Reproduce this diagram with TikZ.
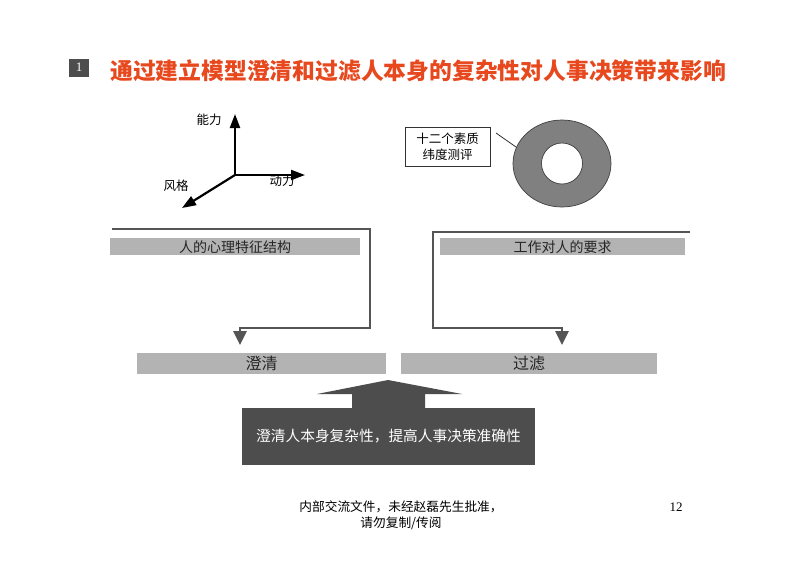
\documentclass[tikz,border=0pt]{standalone}
\usepackage{fontspec}
\setmainfont{Noto Sans CJK SC}
\newfontfamily\numfont{Liberation Serif}
\usetikzlibrary{arrows.meta}
\definecolor{titlered}{HTML}{E8481E}
\definecolor{linegray}{HTML}{555555}
\definecolor{bargray}{HTML}{B3B3B3}
\definecolor{darkbox}{HTML}{4D4D4D}
\definecolor{ringgray}{HTML}{808080}
\tikzset{
  bar/.style={fill=bargray, draw=none, inner sep=0pt, anchor=north west, font=\fontsize{14}{16}\selectfont, text=black!85},
  conn/.style={draw=linegray, line width=2.6pt, -{Triangle[width=13pt,length=14pt]}, shorten >=8pt},
  axis/.style={draw=black, line width=2.2pt, -{Triangle[width=10pt,length=14pt]}},
  lbl/.style={font=\fontsize{12.5}{14}\selectfont, inner sep=0pt},
}
\begin{document}
\begin{tikzpicture}[x=1pt,y=-1pt]
\useasboundingbox (0,0) rectangle (800,566);
\fill[white] (0,0) rectangle (800,566);
% title
\node[fill=darkbox, text=white, minimum width=20pt, minimum height=18pt, inner sep=0pt, font=\numfont\fontsize{13}{13}\selectfont] (num) at (79,67.5) {1};
\node[anchor=west, text=titlered, inner sep=0pt, font=\bfseries\fontsize{22.8}{26}\selectfont] (title) at (110,71) {通过建立模型澄清和过滤人本身的复杂性对人事决策带来影响};
% axes
\coordinate (O) at (235,175);
\coordinate (up) at (235,114);
\coordinate (rt) at (305,175);
\coordinate (dl) at (182,208);
\draw[axis] (O) -- (up);
\draw[axis] (O) -- (rt);
\draw[axis] (O) -- (dl);
\node[lbl] (nengli) at (209,120) {能力};
\node[lbl] (dongli) at (282,181) {动力};
\node[lbl] (fengge) at (176,186) {风格};
% ring
\node[draw=black!80, line width=0.6pt, align=center, inner sep=0pt, minimum width=85pt, minimum height=39pt, font=\fontsize{12.5}{16}\selectfont] (dim) at (447.5,146.5) {十二个素质\\纬度测评};
\fill[ringgray, draw=black!75, line width=0.7pt, even odd rule] (562,163.5) ellipse [x radius=49, y radius=43.5] (562,163.5) circle [radius=20.5];
\coordinate (ringedge) at (516,147);
\draw[black!80, line width=0.8pt] (496,133) -- (ringedge);
% top bars
\node[bar, minimum width=250pt, minimum height=17pt] (psy) at (110,238) {人的心理特征结构};
\node[bar, minimum width=245pt, minimum height=17pt] (job) at (440,238) {工作对人的要求};
% lower bars
\node[bar, minimum width=249pt, minimum height=21pt, font=\fontsize{16}{18}\selectfont] (qing) at (137,353) {澄清};
\node[bar, minimum width=256pt, minimum height=21pt, font=\fontsize{16}{18}\selectfont] (lv) at (401,353) {过滤};
% connectors
\coordinate (ls) at (112,229);
\coordinate (rs) at (690,232);
\draw[conn] (ls) -- (370,229) -- (370,328) -| (qing.north -| 240,0);
\draw[conn] (rs) -- (433,232) -- (433,328) -| (lv.north -| 562,0);
% big arrow
\node[fill=darkbox, text=white, minimum width=293pt, minimum height=57pt, inner sep=0pt, font=\fontsize{14.7}{17}\selectfont] (goal) at (388.5,436.5) {澄清人本身复杂性，提高人事决策准确性};
\fill[darkbox] (goal.north -| 352,0) -- (352,394) -- (317,394) -- (388,380) -- (462,394) -- (425,394) -- (goal.north -| 425,0) -- cycle;
% footer
\node[align=center, inner sep=0pt, font=\fontsize{12.7}{16}\selectfont, text=black] (foot) at (401,515) {内部交流文件，未经赵磊先生批准，\\请勿复制/传阅};
\node[inner sep=0pt, font=\numfont\fontsize{13}{13}\selectfont] (page) at (676,507) {12};
\end{tikzpicture}
\end{document}
